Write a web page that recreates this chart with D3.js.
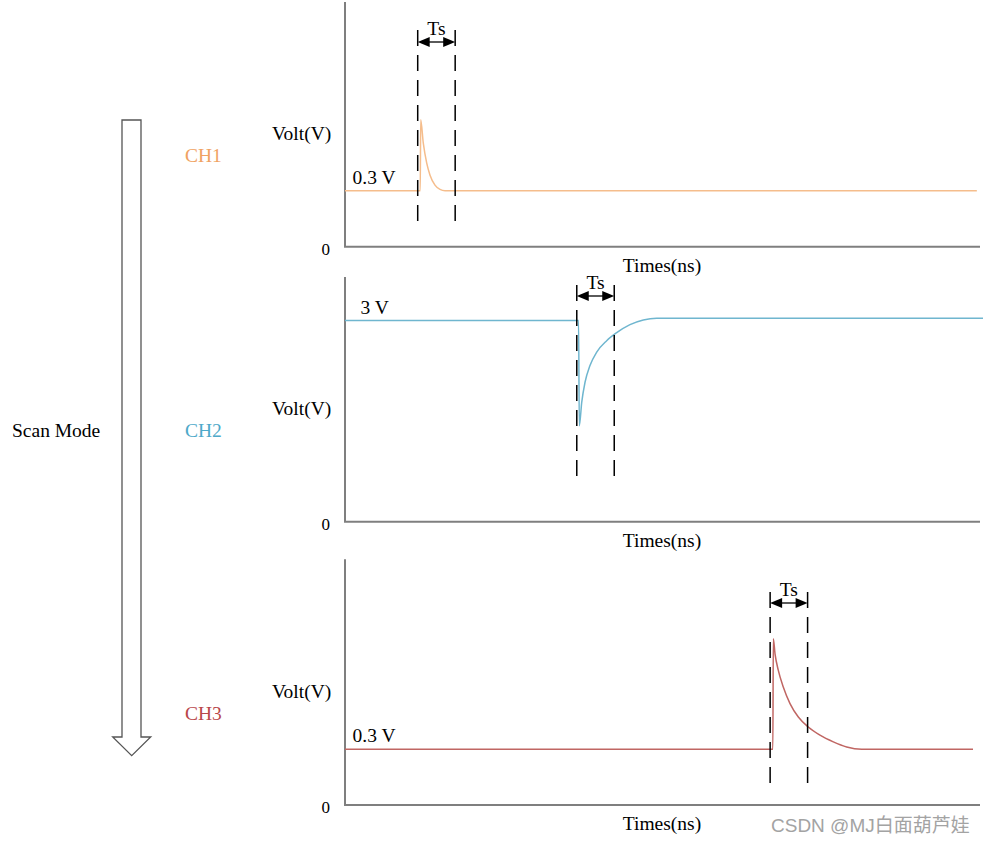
<!DOCTYPE html>
<html>
<head>
<meta charset="utf-8">
<script src="https://cdn.jsdelivr.net/npm/d3@7"></script>
<style>
  body { margin: 0; background: #fff; }
  svg { display: block; }
  text { font-family: "Liberation Serif", "Times New Roman", serif; }
  text.mark { font-family: "Liberation Sans", "Noto Sans CJK SC", sans-serif; }
</style>
</head>
<body>
<div id="chart"></div>
<script>
// Chart data (time in ns, voltage in V)
var channels = ["CH1", "CH2", "CH3"];
var levelLabels = ["0.3 V", "3 V", "0.3 V"];
var yMax = [1.31, 3.65, 1.32];
var timeMax = 100;

var ch1Time = [0, 11.85, 11.92, 12.33, 12.87, 13.39, 14.17, 14.96, 15.75, 99.5];
var ch1Volt = [0.3, 0.3, 0.68, 0.554, 0.447, 0.383, 0.33, 0.307, 0.3, 0.3];

var ch2Time = [0, 36.78, 36.9, 37.28, 37.8, 38.58, 39.64, 41.21, 42.79, 44.88, 46.98, 49.09, 100.5];
var ch2Volt = [3.0, 3.0, 1.43, 1.78, 2.08, 2.33, 2.53, 2.70, 2.82, 2.94, 3.01, 3.035, 3.035];

var ch3Time = [0, 67.38, 67.45, 67.72, 68.24, 69.02, 70.08, 71.39, 72.96, 74.8, 76.9, 79.0, 81.37, 98.9];
var ch3Volt = [0.3, 0.3, 0.893, 0.812, 0.723, 0.634, 0.545, 0.473, 0.419, 0.375, 0.339, 0.312, 0.3, 0.3];

var tsStart = [11.45, 36.5, 66.95];
var tsWidth = 5.9;

var seriesTime = [ch1Time, ch2Time, ch3Time];
var seriesVolt = [ch1Volt, ch2Volt, ch3Volt];

// Layout / styles
var svgWidth = 983;
var svgHeight = 845;
var axisLeftX = 345;
var axisRightX = 980;
var lineColors = ["#f5bd8c", "#6fb6cf", "#c06663"];
var labelColors = ["#f0a262", "#4ea9c9", "#b9474a"];
var panels = [
  { top: 2, bottom: 246.7, dashTop: 30, dashBottom: 229, arrowY: 42, labelX: 352.5 },
  { top: 277, bottom: 521.7, dashTop: 285, dashBottom: 482, arrowY: 296, labelX: 360.5 },
  { top: 559.3, bottom: 805, dashTop: 592, dashBottom: 790, arrowY: 603, labelX: 352.5 }
];

var svg = d3.select("#chart")
  .append("svg")
  .attr("width", svgWidth)
  .attr("height", svgHeight);

var xScale = d3.scaleLinear()
  .domain([0, timeMax])
  .range([axisLeftX, axisRightX]);

// Scan Mode arrow on the left
svg.append("path")
  .attr("d", "M122,120 L141,120 L141,737 L150.7,737 L131.7,755.7 L112.7,737 L122,737 Z")
  .attr("fill", "#fff")
  .attr("stroke", "#555")
  .attr("stroke-width", 1.3);

svg.append("text")
  .attr("x", 12)
  .attr("y", 437)
  .attr("font-size", "19.5px")
  .attr("fill", "#000")
  .text("Scan Mode");

panels.forEach(function(p, i) {
  var yScale = d3.scaleLinear()
    .domain([0, yMax[i]])
    .range([p.bottom, p.top]);

  var g = svg.append("g");

  // axes
  g.append("line")
    .attr("x1", axisLeftX).attr("x2", axisLeftX)
    .attr("y1", p.top).attr("y2", p.bottom)
    .attr("stroke", "#7f7f7f").attr("stroke-width", 2);
  g.append("line")
    .attr("x1", axisLeftX - 1).attr("x2", axisRightX)
    .attr("y1", p.bottom).attr("y2", p.bottom)
    .attr("stroke", "#7f7f7f").attr("stroke-width", 2);

  // zero label
  g.append("text")
    .attr("x", xScale(0) - 15)
    .attr("y", yScale(0) + 8)
    .attr("text-anchor", "end")
    .attr("font-size", "17px")
    .text("0");

  g.append("text")
    .attr("x", 272)
    .attr("y", p.bottom - 107)
    .attr("font-size", "19.5px")
    .text("Volt(V)");

  g.append("text")
    .attr("x", 185)
    .attr("y", p.bottom - 85)
    .attr("font-size", "19.5px")
    .attr("fill", labelColors[i])
    .text(channels[i]);

  g.append("text")
    .attr("x", 662)
    .attr("y", p.bottom + 25)
    .attr("text-anchor", "middle")
    .attr("font-size", "19.5px")
    .text("Times(ns)");

  // waveform
  var pts = seriesTime[i].map(function(t, k) { return [t, seriesVolt[i][k]]; });
  var line = d3.line()
    .x(function(d) { return xScale(d[0]); })
    .y(function(d) { return yScale(d[1]); })
    .curve(d3.curveMonotoneX);
  g.append("path")
    .datum(pts)
    .attr("d", line)
    .attr("fill", "none")
    .attr("stroke", lineColors[i])
    .attr("stroke-width", 1.5);

  // level label
  g.append("text")
    .attr("x", p.labelX)
    .attr("y", yScale(seriesVolt[i][0]) - 7)
    .attr("font-size", "19.5px")
    .text(levelLabels[i]);

  // Ts markers
  var xa = xScale(tsStart[i]);
  var xb = xScale(tsStart[i] + tsWidth);
  [xa, xb].forEach(function(xv) {
    g.append("line")
      .attr("x1", xv).attr("x2", xv)
      .attr("y1", p.dashTop).attr("y2", p.dashBottom)
      .attr("stroke", "#000")
      .attr("stroke-width", 1.5)
      .attr("stroke-dasharray", "16,9");
  });
  g.append("line")
    .attr("x1", xa + 8).attr("x2", xb - 8)
    .attr("y1", p.arrowY).attr("y2", p.arrowY)
    .attr("stroke", "#000").attr("stroke-width", 1.3);
  g.append("path")
    .attr("d", "M" + xa + "," + p.arrowY + " l12,-5 l0,10 Z")
    .attr("fill", "#000");
  g.append("path")
    .attr("d", "M" + xb + "," + p.arrowY + " l-12,-5 l0,10 Z")
    .attr("fill", "#000");
  g.append("text")
    .attr("x", (xa + xb) / 2)
    .attr("y", p.arrowY - 7)
    .attr("text-anchor", "middle")
    .attr("font-size", "19.5px")
    .text("Ts");
});

// watermark
svg.append("text")
  .attr("class", "mark")
  .attr("x", 771)
  .attr("y", 832)
  .attr("font-size", "19px")
  .attr("fill", "#a3a3a3")
  .text("CSDN @MJ白面葫芦娃");
</script>
</body>
</html>
